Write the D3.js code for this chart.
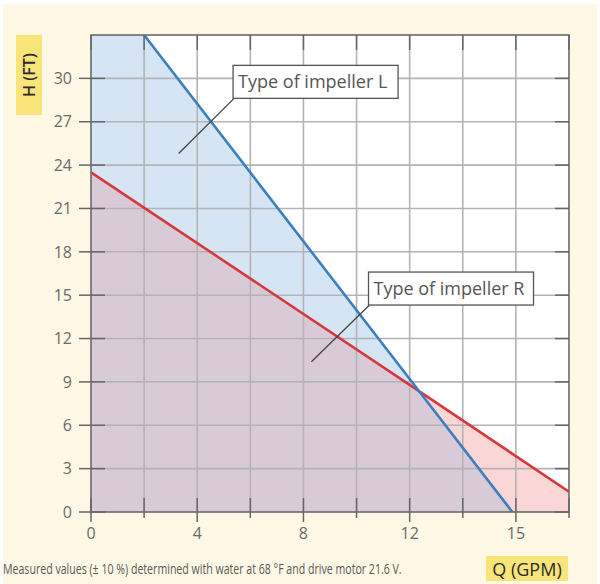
<!DOCTYPE html>
<html>
<head>
<meta charset="utf-8">
<script src="https://cdn.jsdelivr.net/npm/d3@7"></script>
<style>
  body { margin: 0; background: #fff; }
  text { font-family: "Open Sans", "Noto Sans", sans-serif; }
</style>
</head>
<body>
<div id="chart"></div>
<script>
// pump curves, Q (GPM) against H (FT)
const impellerL = [[2, 33], [12, 9.2], [14.9, 0]];
const impellerR = [[0, 23.5], [12, 8.8], [16.5, 1.4]];
const xGrid = [0, 2, 4, 6, 8, 10, 12, 13.5, 15, 16.5];
const xTickLabels = [0, 4, 8, 12, 15];
const yTicks = [0, 3, 6, 9, 12, 15, 18, 21, 24, 27, 30];
const yGrid = [3, 6, 9, 12, 15, 18, 21, 24, 27, 30];
const footnote = 'Measured values (\u00b1 10 %) determined with water at 68 \u00b0F and drive motor 21.6 V.';

const W = 600, H = 584;
const margin = { top: 35, right: 31, bottom: 72, left: 91 };
const width = W - margin.left - margin.right;
const height = H - margin.top - margin.bottom;

const svg = d3.select('#chart').append('svg')
  .attr('width', W)
  .attr('height', H);

svg.append('rect')
  .attr('x', 3).attr('y', 4)
  .attr('width', W - 6).attr('height', H - 4)
  .attr('fill', '#fef8e4');

const g = svg.append('g')
  .attr('transform', 'translate(' + margin.left + ',' + margin.top + ')');

// the axis labels are evenly spaced in the original, 12 -> 15 covers two cells
const x = d3.scaleLinear().domain([0, 12, 15]).range([0, width * 6 / 9, width * 8 / 9]);
const y = d3.scaleLinear().domain([0, 33]).range([height, 0]);

g.append('rect')
  .attr('width', width).attr('height', height)
  .attr('fill', '#fff');

const defs = svg.append('defs');
defs.append('clipPath').attr('id', 'plotClip')
  .append('rect').attr('width', width).attr('height', height);

const area = d3.area()
  .x(d => x(d[0]))
  .y0(height)
  .y1(d => y(d[1]));

const line = d3.line().x(d => x(d[0])).y(d => y(d[1]));

// region under curve L, including everything to its left
const lastL = impellerL[impellerL.length - 1];
const regionL = line([[0, 0], [0, impellerL[0][1]], ...impellerL, [lastL[0], 0]]) + 'Z';

defs.append('clipPath').attr('id', 'clipL')
  .append('path')
  .attr('d', regionL);

const fills = g.append('g').attr('clip-path', 'url(#plotClip)');
fills.append('path')
  .attr('d', regionL)
  .attr('fill', '#d5e5f4');
fills.append('path')
  .datum(impellerR)
  .attr('d', area)
  .attr('fill', '#fad6d6');
fills.append('path')
  .datum(impellerR)
  .attr('d', area)
  .attr('clip-path', 'url(#clipL)')
  .attr('fill', '#d9cad8');

// grid
g.append('g')
  .selectAll('line')
  .data(xGrid.slice(1, -1))
  .enter().append('line')
  .attr('x1', d => x(d)).attr('x2', d => x(d))
  .attr('y1', 0).attr('y2', height)
  .attr('stroke', '#b4b4b4')
  .attr('stroke-width', 1.6);

g.append('g')
  .selectAll('line')
  .data(yGrid)
  .enter().append('line')
  .attr('y1', d => y(d)).attr('y2', d => y(d))
  .attr('x1', 0).attr('x2', width)
  .attr('stroke', '#b4b4b4')
  .attr('stroke-width', 1.6);

// curves
g.append('path')
  .datum(impellerR)
  .attr('d', line)
  .attr('fill', 'none')
  .attr('stroke', '#d8383b')
  .attr('stroke-width', 2.6)
  .attr('clip-path', 'url(#plotClip)');

g.append('path')
  .datum(impellerL)
  .attr('d', line)
  .attr('fill', 'none')
  .attr('stroke', '#3b7fbf')
  .attr('stroke-width', 2.6)
  .attr('clip-path', 'url(#plotClip)');

// frame and ticks
g.append('rect')
  .attr('width', width).attr('height', height)
  .attr('fill', 'none')
  .attr('stroke', '#6a6a6a')
  .attr('stroke-width', 1.6);

const ticks = g.append('g').attr('stroke', '#666').attr('stroke-width', 1.5);
xGrid.forEach(d => {
  ticks.append('line').attr('x1', x(d)).attr('x2', x(d)).attr('y1', 0).attr('y2', 15);
  ticks.append('line').attr('x1', x(d)).attr('x2', x(d))
    .attr('y1', height - 14).attr('y2', height + (xTickLabels.includes(d) ? 10 : 6));
});
yTicks.forEach(d => {
  ticks.append('line').attr('y1', y(d)).attr('y2', y(d)).attr('x1', -12).attr('x2', 14);
  ticks.append('line').attr('y1', y(d)).attr('y2', y(d)).attr('x1', width - 14).attr('x2', width);
});

g.append('g')
  .selectAll('text')
  .data(yTicks)
  .enter().append('text')
  .attr('x', -19)
  .attr('y', d => y(d))
  .attr('dy', '0.36em')
  .attr('text-anchor', 'end')
  .attr('fill', '#6b6b6b')
  .style('font-size', '16px')
  .text(d => d);

g.append('g')
  .selectAll('text')
  .data(xTickLabels)
  .enter().append('text')
  .attr('x', d => x(d))
  .attr('y', height + 27)
  .attr('text-anchor', 'middle')
  .attr('fill', '#6b6b6b')
  .style('font-size', '16px')
  .text(d => d);

// squeeze a text horizontally so it fits a given width (narrow face in the original)
const squeeze = (sel, left, baseline, targetW) => {
  const w = sel.node().getComputedTextLength();
  const k = Math.min(1, targetW / w);
  sel.attr('x', 0).attr('y', 0)
    .attr('transform', 'translate(' + left + ',' + baseline + ') scale(' + k + ',1)');
};

// annotations
const drawNote = (label, anchor, boxX, boxY, boxW) => {
  const bx = x(boxX), by = y(boxY);
  g.append('line')
    .attr('x1', bx + 1).attr('y1', by + 33)
    .attr('x2', x(anchor[0])).attr('y2', y(anchor[1]))
    .attr('stroke', '#444').attr('stroke-width', 1.3);
  g.append('rect')
    .attr('x', bx).attr('y', by)
    .attr('width', boxW).attr('height', 33)
    .attr('fill', '#fff')
    .attr('stroke', '#555')
    .attr('stroke-width', 1.3);
  const t = g.append('text')
    .attr('fill', '#555')
    .style('font-size', '18px')
    .text(label);
  squeeze(t, bx + 5, by + 23, boxW - 10);
};
drawNote('Type of impeller L', [3.3, 24.8], 5.35, 30.9, 165);
drawNote('Type of impeller R', [8.3, 10.4], 10.45, 16.6, 165);

// axis titles
svg.append('rect')
  .attr('x', 16).attr('y', 35).attr('width', 26).attr('height', 80)
  .attr('fill', '#f8e479');
svg.append('text')
  .attr('transform', 'translate(35,75) rotate(-90)')
  .attr('text-anchor', 'middle')
  .attr('fill', '#2a2a2a')
  .style('font-size', '16px')
  .style('font-weight', '600')
  .text('H (FT)');

svg.append('rect')
  .attr('x', 486).attr('y', 556).attr('width', 82).attr('height', 25)
  .attr('fill', '#f8e479');
svg.append('text')
  .attr('x', 527).attr('y', 576)
  .attr('text-anchor', 'middle')
  .attr('fill', '#2a2a2a')
  .style('font-size', '18px')
  .text('Q (GPM)');

const note = svg.append('text')
  .attr('fill', '#5a5a5a')
  .style('font-size', '14px')
  .text(footnote);
squeeze(note, 3, 574, 399);
</script>
</body>
</html>
